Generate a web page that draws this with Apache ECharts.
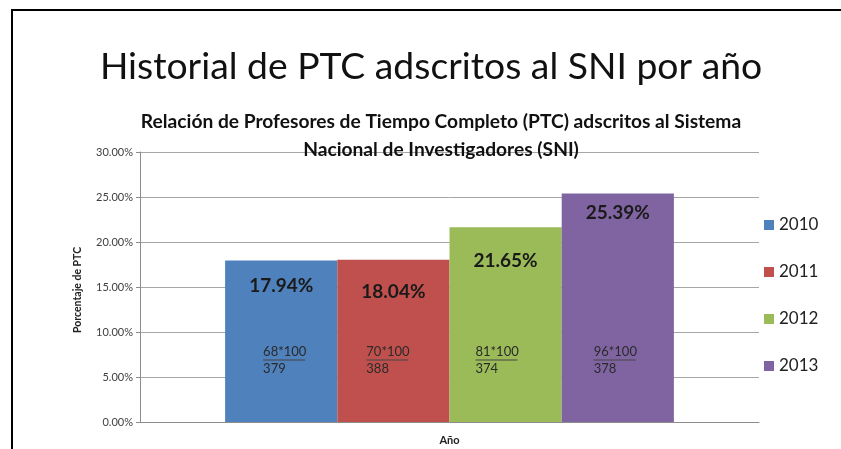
<!DOCTYPE html>
<html>
<head>
<meta charset="utf-8">
<script src="https://cdn.jsdelivr.net/npm/echarts@6/dist/echarts.min.js"></script>
<style>
  html, body { margin: 0; padding: 0; background: #fff; overflow: hidden; }
  #main { position: absolute; left: 0; top: 0; width: 841px; height: 449px; }
</style>
</head>
<body>
<div id="main"></div>
<script>
// datos del grafico
const years = ['2010', '2011', '2012', '2013'];
const category = ['Año'];
const percentages = [17.94, 18.04, 21.65, 25.39];
const numerators = ['68*100', '70*100', '81*100', '96*100'];
const denominators = ['379', '388', '374', '378'];
const colors = ['#4F81BD', '#C0504D', '#9BBB59', '#8064A2'];

let myChart = echarts.init(document.getElementById('main'));

// separacion de la etiqueta grande respecto al borde superior de cada barra
const topGap = [16, 23, 24, 10];
// desplazamiento horizontal de la fraccion dentro de cada barra
const fracShift = [38, 29, 26, 32];

let series = [];
years.forEach((y, i) => {
  series.push({
    name: y,
    type: 'bar',
    xAxisIndex: 0,
    barGap: 0,
    barCategoryGap: '27.5%',
    data: [percentages[i]],
    itemStyle: { color: colors[i] },
    label: {
      show: true,
      position: 'insideTop',
      distance: topGap[i],
      formatter: p => p.value.toFixed(2) + '%',
      fontFamily: 'Lato',
      fontWeight: 'bold',
      fontSize: 19,
      color: '#1a1a1a'
    }
  });
});
years.forEach((y, i) => {
  series.push({
    name: 'frac' + y,
    type: 'bar',
    xAxisIndex: 1,
    barGap: 0,
    barCategoryGap: '27.5%',
    data: [percentages[i]],
    itemStyle: { color: 'rgba(0,0,0,0)' },
    label: {
      show: true,
      position: 'insideBottomLeft',
      distance: 0,
      offset: [fracShift[i], -46],
      formatter: '{n|' + numerators[i] + '}\n{u| }\n{d|' + denominators[i] + '}',
      rich: {
        n: { fontFamily: 'Lato', fontSize: 13, lineHeight: 15, color: '#2a2a2a' },
        u: { width: 42, height: 1, lineHeight: 2, backgroundColor: '#444' },
        d: { fontFamily: 'Lato', fontSize: 13, lineHeight: 15, color: '#2a2a2a' }
      }
    }
  });
});

let option = {
  animation: false,
  // marco negro superior e izquierdo
  graphic: [
    { type: 'line', shape: { x1: 12, y1: 10, x2: 841, y2: 10 }, style: { stroke: '#000', lineWidth: 2 } },
    { type: 'line', shape: { x1: 12, y1: 9, x2: 12, y2: 449 }, style: { stroke: '#000', lineWidth: 2 } }
  ],
  title: [
    {
      text: 'Historial de PTC adscritos al SNI por año',
      left: 426,
      textAlign: 'center',
      top: 43,
      textStyle: { fontFamily: 'Lato', fontWeight: 'normal', fontSize: 37.3, color: '#111' }
    },
    {
      text: 'Relación de Profesores de Tiempo Completo (PTC) adscritos al Sistema\nNacional de Investigadores (SNI)',
      left: 436,
      textAlign: 'center',
      top: 103,
      textStyle: { fontFamily: 'Lato', fontWeight: 'bold', fontSize: 19.2, lineHeight: 28, color: '#111' }
    }
  ],
  legend: {
    orient: 'vertical',
    left: 759,
    top: 210,
    icon: 'rect',
    itemWidth: 10,
    itemHeight: 10,
    itemGap: 27,
    data: years,
    textStyle: { fontFamily: 'Lato', fontSize: 17, lineHeight: 20, color: '#222' }
  },
  grid: { left: 140, right: 82, top: 152, bottom: 27 },
  xAxis: [
    {
      type: 'category',
      data: category,
      axisTick: { show: false },
      axisLine: { lineStyle: { color: '#8c8c8c' } },
      axisLabel: { margin: 13, fontFamily: 'Lato', fontWeight: 'bold', fontSize: 11, color: '#222' }
    },
    {
      type: 'category',
      data: category,
      position: 'bottom',
      show: false
    }
  ],
  yAxis: {
    type: 'value',
    min: 0,
    max: 30,
    interval: 5,
    name: 'Porcentaje de PTC',
    nameLocation: 'middle',
    nameGap: 57,
    nameTextStyle: { fontFamily: 'Lato', fontWeight: 'bold', fontSize: 10.5, color: '#222', padding: [0, 6, 0, 0] },
    axisLine: { show: true, lineStyle: { color: '#8c8c8c' } },
    axisTick: { show: true, length: 4, lineStyle: { color: '#8c8c8c' } },
    splitLine: { lineStyle: { color: '#a6a6a6' } },
    axisLabel: {
      margin: 7,
      formatter: v => v.toFixed(2) + '%',
      fontFamily: 'Lato',
      fontSize: 11,
      color: '#404040'
    }
  },
  series: series
};

myChart.setOption(option);
</script>
</body>
</html>
